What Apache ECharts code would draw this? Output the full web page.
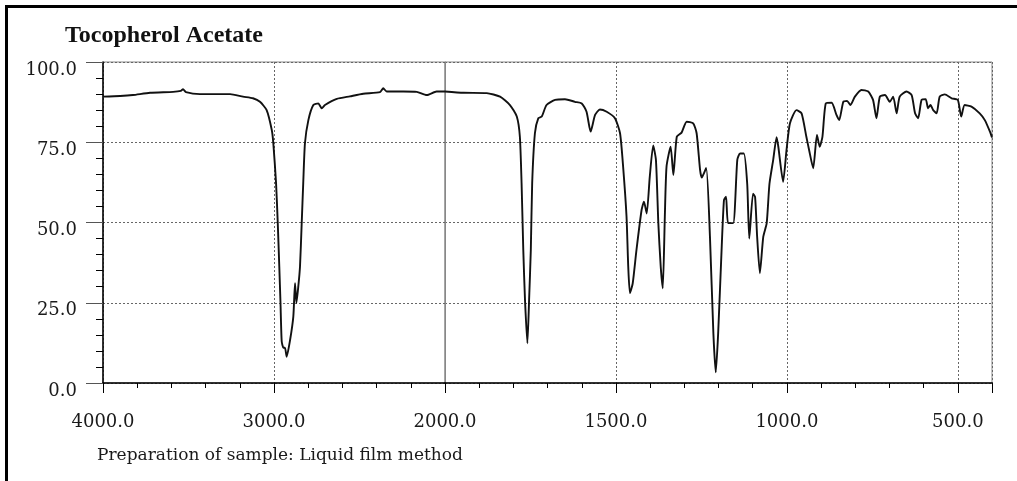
<!DOCTYPE html>
<html>
<head>
<meta charset="utf-8">
<title>Tocopherol Acetate IR spectrum</title>
<script src="https://cdn.jsdelivr.net/npm/echarts@6/dist/echarts.min.js"></script>
<style>
  html, body { margin: 0; padding: 0; background: #fff; }
  #chart { width: 1017px; height: 481px; }
</style>
</head>
<body>
<div id="chart"></div>
<script>
// IR transmittance spectrum, wavenumber in cm-1, transmittance in %
// 4000-2000 cm-1 part (compressed scale)
const highWavenumber = [
  4000, 3900, 3825, 3725, 3590, 3545, 3532, 3515, 3433, 3257, 3181, 3123, 3082, 3043,
  3013, 3004, 2988, 2978, 2969, 2962, 2955, 2945, 2936, 2926, 2906, 2887, 2877, 2869,
  2858, 2848, 2838, 2829, 2819, 2799, 2770, 2741, 2721, 2702, 2633, 2556, 2478, 2380,
  2361, 2341, 2244, 2165, 2107, 2049, 2000
];
const highTransmittance = [
  89.2, 89.4, 89.7, 90.4, 90.7, 91.0, 91.5, 90.6, 90.0, 90.0, 89.2, 88.7, 87.6, 85.0,
  78.8, 74.7, 62.3, 49.8, 36.2, 24.9, 13.0, 11.0, 11.0, 8.2, 13.4, 20.7, 31.1, 24.9,
  30.0, 36.2, 49.8, 62.3, 74.7, 81.9, 86.6, 87.1, 85.6, 86.6, 88.5, 89.3, 90.1, 90.6,
  91.8, 90.8, 90.8, 90.7, 89.7, 90.8, 90.8
];

// 2000-400 cm-1 part (expanded scale)
const lowWavenumber = [
  2000, 1946, 1878, 1839, 1810, 1790, 1781, 1776, 1771, 1766, 1759, 1754, 1749, 1745,
  1737, 1727, 1717, 1703, 1678, 1649, 1620, 1600, 1586, 1574, 1561, 1547, 1527, 1503,
  1488, 1479, 1469, 1464, 1459, 1451, 1440, 1425, 1418, 1410, 1401, 1391, 1383, 1376,
  1369, 1363, 1357, 1352, 1340, 1332, 1322, 1308, 1293, 1274, 1264, 1254, 1249, 1236,
  1225, 1215, 1208, 1201, 1191, 1184, 1178, 1172, 1157, 1145, 1137, 1126, 1116, 1110,
  1099, 1093, 1087, 1079, 1069, 1059, 1051, 1040, 1030, 1025, 1011, 1001, 991, 972,
  957, 943, 935, 923, 912, 904, 896, 886, 869, 855, 847, 835, 824, 814,
  801, 782, 762, 748, 738, 728, 713, 699, 689, 679, 670, 650, 635, 625,
  616, 606, 594, 587, 580, 572, 562, 553, 538, 518, 500, 490, 480, 460,
  436, 421, 406, 400
];
const lowTransmittance = [
  90.8, 90.4, 90.3, 89.2, 86.6, 83.0, 76.7, 62.2, 41.4, 25.9, 12.4, 25.9, 41.4, 62.2,
  77.8, 82.5, 83.0, 86.6, 88.2, 88.4, 87.6, 87.1, 84.5, 78.3, 83.5, 85.2, 84.5, 82.5,
  77.8, 67.4, 51.8, 36.2, 28.0, 31.0, 41.4, 53.9, 56.5, 52.8, 64.3, 74.0, 69.5, 49.8,
  36.2, 29.5, 51.8, 67.4, 73.6, 64.8, 76.7, 78.0, 81.4, 80.9, 77.8, 66.5, 64.0, 67.0,
  45.6, 15.5, 3.3, 15.5, 41.4, 57.0, 58.0, 49.8, 49.8, 69.5, 71.5, 71.5, 62.0, 45.0,
  59.0, 58.0, 45.6, 34.2, 45.6, 49.8, 62.0, 69.5, 76.6, 73.6, 62.7, 72.6, 80.9, 85.0,
  84.0, 76.7, 72.6, 66.9, 77.3, 73.6, 76.7, 87.1, 87.3, 83.5, 81.9, 87.6, 87.9, 86.6,
  89.2, 91.3, 90.8, 88.2, 82.5, 89.2, 89.7, 87.6, 89.2, 84.0, 89.2, 90.8, 89.7, 84.0,
  82.5, 88.2, 88.4, 85.6, 86.6, 85.0, 84.0, 89.2, 89.9, 88.7, 88.2, 83.0, 86.6, 86.1,
  84.0, 81.9, 78.3, 76.5
];

// Tick labels
const highTickLabels = [4000, 3000, 2000];
const lowTickLabels = [1500, 1000, 500];
const lowTickMarks = [1500, 1000, 500, 400];
const yTickLabels = [0, 25, 50, 75, 100];

const titleText = 'Tocopherol Acetate';
const noteText = 'Preparation of sample: Liquid film method';

const pairs = (xs, ys) => xs.map((x, i) => [x, ys[i]]);
const fmt = v => Number(v).toFixed(1);

const serif = 'DejaVu Serif';
const gridLine = { color: '#666', width: 1, type: [2, 2] };
const labelStyle = { fontFamily: serif, fontSize: 18, color: '#1a1a1a' };
const traceStyle = { color: '#111', width: 1.9 };

const chart = echarts.init(document.getElementById('chart'), null, { renderer: 'canvas' });

chart.setOption({
  animation: false,
  backgroundColor: '#fff',
  title: {
    text: titleText,
    left: 65,
    top: 24,
    padding: 0,
    textStyle: { fontFamily: 'Liberation Serif', fontWeight: 'bold', fontSize: 24, color: '#111' }
  },
  graphic: [
    {
      type: 'rect',
      shape: { x: 6.5, y: 6.5, width: 1100, height: 600 },
      style: { fill: 'none', stroke: '#000', lineWidth: 3 },
      silent: true
    },
    {
      type: 'text',
      left: 97,
      top: 447,
      style: { text: noteText, font: '17px "DejaVu Serif"', fill: '#1a1a1a' },
      silent: true
    }
  ],
  grid: [
    { left: 103, top: 62, width: 342, height: 321, show: true, borderColor: '#888', borderWidth: 1 },
    { left: 445, top: 62, width: 547, height: 321, show: true, borderColor: '#888', borderWidth: 1 }
  ],
  xAxis: [
    {
      gridIndex: 0, type: 'value', position: 'bottom', inverse: true,
      min: 2000, max: 4000, interval: 1000,
      axisLine: { show: true, lineStyle: { color: '#000', width: 1.5 } },
      axisTick: { show: true, length: 10, lineStyle: { color: '#000', width: 1 } },
      minorTick: { show: true, splitNumber: 5, length: 5, lineStyle: { color: '#000', width: 1 } },
      axisLabel: { customValues: highTickLabels, formatter: fmt, margin: 30, ...labelStyle },
      splitLine: { show: true, lineStyle: gridLine }
    },
    {
      gridIndex: 1, type: 'value', position: 'bottom', inverse: true,
      min: 400, max: 2000, interval: 100,
      axisLine: { show: true, lineStyle: { color: '#000', width: 1.5 } },
      axisTick: { show: true, length: 5, lineStyle: { color: '#000', width: 1 } },
      axisLabel: { show: false },
      splitLine: { show: false }
    },
    {
      gridIndex: 1, type: 'value', position: 'bottom', inverse: true,
      min: 400, max: 2000,
      axisLine: { show: false },
      axisTick: { show: true, customValues: lowTickMarks, length: 10, lineStyle: { color: '#000', width: 1 } },
      axisLabel: { customValues: lowTickLabels, formatter: fmt, margin: 30, ...labelStyle },
      splitLine: { show: true, lineStyle: gridLine }
    }
  ],
  yAxis: [
    {
      gridIndex: 0, type: 'value', min: 0, max: 100, interval: 25,
      axisLine: { show: true, lineStyle: { color: '#000', width: 1.5 } },
      axisTick: { show: true, length: 17, lineStyle: { color: '#555', width: 1 } },
      minorTick: { show: true, splitNumber: 5, length: 7, lineStyle: { color: '#000', width: 1 } },
      axisLabel: {
        customValues: yTickLabels, formatter: fmt, margin: 26,
        verticalAlign: 'top', lineHeight: 16, ...labelStyle
      },
      splitLine: { show: true, lineStyle: gridLine }
    },
    {
      gridIndex: 1, type: 'value', min: 0, max: 100, interval: 25,
      axisLine: { show: true, lineStyle: { color: '#888', width: 1 } },
      axisTick: { show: false },
      axisLabel: { show: false },
      splitLine: { show: true, lineStyle: gridLine }
    }
  ],
  series: [
    {
      type: 'line', xAxisIndex: 0, yAxisIndex: 0,
      data: pairs(highWavenumber, highTransmittance),
      showSymbol: false, symbol: 'none', smooth: 0.2,
      lineStyle: traceStyle
    },
    {
      type: 'line', xAxisIndex: 1, yAxisIndex: 1,
      data: pairs(lowWavenumber, lowTransmittance),
      showSymbol: false, symbol: 'none', smooth: 0.2,
      lineStyle: traceStyle
    }
  ]
});
</script>
</body>
</html>
